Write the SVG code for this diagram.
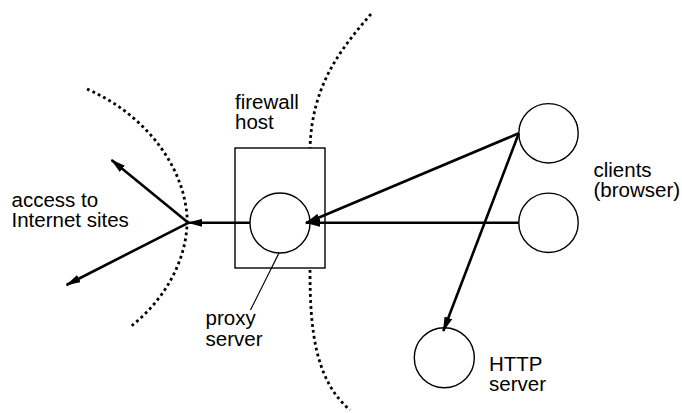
<svg xmlns="http://www.w3.org/2000/svg" width="682" height="413" viewBox="0 0 682 413">
<style>
  text { font-family: "Liberation Sans", Arial, sans-serif; font-size: 20.5px; fill: #000; }
  .node { fill: #fff; stroke: #000; stroke-width: 1.4; }
  .edge { fill: none; stroke: #000; stroke-width: 2.6; }
  .dot { fill: none; stroke: #000; stroke-width: 2.8; stroke-dasharray: 2.8 3.2; }
  .thin { fill: none; stroke: #000; stroke-width: 1.2; }
</style>
<defs>
  <marker id="ah" viewBox="0 0 15 8" refX="14" refY="4" markerWidth="15" markerHeight="8" orient="auto" markerUnits="userSpaceOnUse">
    <path d="M0,0 L15,4 L0,8 z" fill="#000"/>
  </marker>
</defs>
<rect width="682" height="413" fill="#fff"/>
<g id="boundaries">
  <path class="dot" d="M87,89 C140,112 182,160 187,215 C189,258 165,300 130,327"/>
  <path class="dot" d="M371,14 C340,50 312,85 310,148"/>
  <path class="dot" d="M310,270 C310,330 315,380 350,410"/>
</g>
<g id="firewall">
  <rect class="node" x="235" y="148" width="90" height="120"/>
  <text x="235" y="109">firewall</text>
  <text x="235" y="129">host</text>
</g>
<g id="proxy">
  <circle class="node" cx="280" cy="223" r="30"/>
  <path class="thin" d="M279,253 L250.5,310"/>
  <text x="205.5" y="325">proxy</text>
  <text x="205.5" y="346">server</text>
</g>
<g id="client1">
  <circle class="node" cx="548.5" cy="133.3" r="29.7"/>
</g>
<g id="client2">
  <circle class="node" cx="548.5" cy="222.8" r="29.7"/>
  <text x="593.5" y="176.7">clients</text>
  <text x="593.5" y="196.7">(browser)</text>
</g>
<g id="http">
  <circle class="node" cx="444.3" cy="357.7" r="30"/>
  <text x="489" y="371">HTTP</text>
  <text x="489" y="391">server</text>
</g>
<g id="internet">
  <text x="11.5" y="206.7">access to</text>
  <text x="11.5" y="226.7">Internet sites</text>
</g>
<g id="connectors">
  <line class="edge" x1="518.8" y1="222.8" x2="306" y2="222.8" marker-end="url(#ah)"/>
  <line class="edge" x1="518.8" y1="133.3" x2="306" y2="223" marker-end="url(#ah)"/>
  <line class="edge" x1="518.8" y1="133.3" x2="443.3" y2="331" marker-end="url(#ah)"/>
  <line class="edge" x1="250" y1="222.8" x2="188.3" y2="222.8" marker-end="url(#ah)"/>
  <line class="edge" x1="188.3" y1="222.8" x2="111.5" y2="160" marker-end="url(#ah)"/>
  <line class="edge" x1="188.3" y1="222.8" x2="66.5" y2="285" marker-end="url(#ah)"/>
</g>
</svg>
